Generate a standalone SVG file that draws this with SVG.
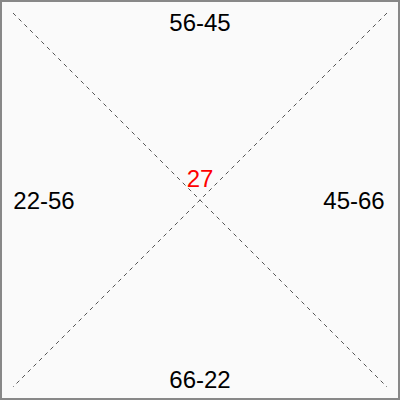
<svg xmlns="http://www.w3.org/2000/svg" width="400" height="400" viewBox="0 0 400 400">
<style>
.lbl{font-family:"Liberation Sans",Arial,sans-serif;font-size:24px;fill:#000;text-anchor:middle}
.diag{stroke:#555;stroke-width:1;stroke-dasharray:4,4;fill:none}
</style>
<rect x="1" y="1" width="398" height="398" fill="#fafafa" stroke="#888" stroke-width="2"/>
<g id="connectors">
<line class="diag" x1="13" y1="13" x2="387" y2="387"/>
<line class="diag" x1="387" y1="13" x2="13" y2="387"/>
</g>
<g id="top"><text class="lbl" x="200" y="31">56-45</text></g>
<g id="left"><text class="lbl" x="44" y="209">22-56</text></g>
<g id="right"><text class="lbl" x="354" y="209">45-66</text></g>
<g id="bottom"><text class="lbl" x="200" y="388">66-22</text></g>
<g id="center"><text class="lbl" x="200" y="187" style="fill:#ff0000">27</text></g>
</svg>
